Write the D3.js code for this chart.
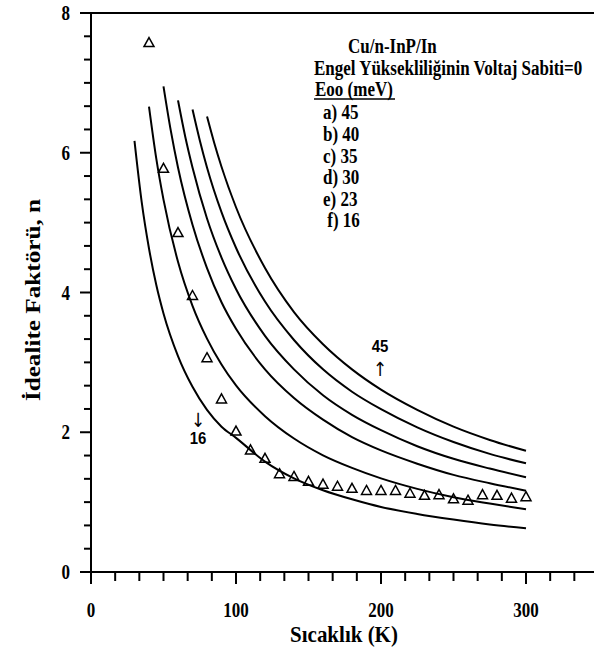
<!DOCTYPE html>
<html><head><meta charset="utf-8">
<script src="https://cdn.jsdelivr.net/npm/d3@7"></script>
<style>body{margin:0;background:#fff} svg{display:block}</style>
</head><body><svg id="c" width="594" height="650"></svg>
<script>
// ---- data ----
const eooLabels = ["a) 45","b) 40","c) 35","d) 30","e) 23"," f) 16"];
const tempA = [80,85,90,100,120,140,160,180,200,225,250,275,300];
const nA    = [6.52,6.14,5.80,5.22,4.35,3.72,3.26,2.90,2.61,2.32,2.08,1.89,1.735];
const tempB = [70,75,80,90,100,120,140,160,180,200,225,250,275,300];
const nB    = [6.62,6.18,5.79,5.15,4.64,3.87,3.32,2.90,2.58,2.33,2.07,1.86,1.69,1.555];
const tempC = [60,65,70,80,90,100,120,140,160,180,200,225,250,275,300];
const nC    = [6.75,6.23,5.79,5.06,4.50,4.05,3.38,2.90,2.53,2.25,2.03,1.80,1.62,1.48,1.355];
const tempD = [50,55,60,70,80,90,100,120,140,160,180,200,225,250,275,300];
const nD    = [6.95,6.32,5.79,4.97,4.35,3.86,3.48,2.90,2.49,2.18,1.93,1.74,1.55,1.39,1.27,1.163];
const tempE = [40,45,50,60,70,80,90,100,120,140,160,180,200,225,250,275,300];
const nE    = [6.66,5.92,5.33,4.44,3.81,3.34,2.97,2.67,2.23,1.91,1.67,1.49,1.34,1.19,1.07,0.98,0.897];
const tempF = [30,35,40,45,50,60,70,80,90,100,120,140,160,180,200,225,250,275,300];
const nF    = [6.17,5.29,4.63,4.11,3.70,3.09,2.65,2.32,2.08,1.92,1.58,1.34,1.17,1.04,0.93,0.83,0.75,0.68,0.625];
const tempExp = [40,50,60,70,80,90,100,110,120,130,140,150,160,170,180,190,200,210,220,230,240,250,260,270,280,290,300];
const nExp    = [7.57,5.77,4.85,3.95,3.06,2.47,2.01,1.74,1.62,1.40,1.36,1.29,1.25,1.22,1.19,1.16,1.16,1.16,1.12,1.09,1.10,1.04,1.02,1.10,1.09,1.05,1.07];
const xTicks = [0,100,200,300];
const yTicks = [0,2,4,6,8];
const xTitle = "Sıcaklık (K)";
const yTitle = "İdealite Faktörü, n";
const legendTitle1 = "Cu/n-InP/In";
const legendTitle2 = "Engel Yüksekliliğinin Voltaj Sabiti=0";
const legendHead = "Eoo (meV)";

// ---- drawing ----
const svg = d3.select("#c");
const x = d3.scaleLinear().domain([0,350]).range([91,598.5]);
const y = d3.scaleLinear().domain([0,8]).range([572,13]);
const SY = 1.2;
const serif = "'Liberation Serif','Times New Roman',serif";
const sans = "'Liberation Sans',Arial,sans-serif";

function stext(px, py, str, opts={}) {
  const g = svg.append("g").attr("transform", `translate(${px},${py}) scale(1,${opts.sy||SY})` + (opts.rot ? ` rotate(${opts.rot})` : ""));
  return g.append("text").attr("x",0).attr("y",0)
    .attr("font-family", opts.family || serif)
    .attr("font-weight", opts.weight || "bold")
    .attr("font-size", opts.size || 17)
    .attr("text-anchor", opts.anchor || "start")
    .attr("fill","#000")
    .style("white-space","pre")
    .text(str);
}

// minor ticks
const xMinor = d3.range(0, 351, 100/6).filter(v => xTicks.every(t => Math.abs(t-v) > 1e-6));
const yMinor = d3.range(0, 8.0001, 1/3).filter(v => yTicks.every(t => Math.abs(t-v) > 1e-6));

const ax = svg.append("g").attr("stroke","#000").attr("stroke-width",2).attr("fill","none");
ax.append("line").attr("x1", x(0)-11).attr("x2", x(350)).attr("y1", y(0)).attr("y2", y(0));
ax.append("line").attr("x1", x(0)-11).attr("x2", x(350)).attr("y1", y(8)).attr("y2", y(8));
ax.append("line").attr("x1", x(0)).attr("x2", x(0)).attr("y1", y(0)+12).attr("y2", y(8));
ax.selectAll(".xM").data(xTicks).join("line").attr("x1", d=>x(d)).attr("x2", d=>x(d)).attr("y1", y(0)).attr("y2", y(0)+12);
ax.selectAll(".xm").data(xMinor).join("line").attr("x1", d=>x(d)).attr("x2", d=>x(d)).attr("y1", y(0)).attr("y2", y(0)+9);
ax.selectAll(".yM").data(yTicks).join("line").attr("x1", x(0)-11).attr("x2", x(0)).attr("y1", d=>y(d)).attr("y2", d=>y(d));
ax.selectAll(".ym").data(yMinor).join("line").attr("x1", x(0)-7).attr("x2", x(0)).attr("y1", d=>y(d)).attr("y2", d=>y(d));

xTicks.forEach(t => stext(x(t), 617, String(t), {anchor:"middle"}));
yTicks.forEach(t => stext(70, y(t)+7, String(t), {anchor:"end"}));

stext(344, 642, xTitle, {anchor:"middle", size:21, sy:1.1});
stext(40, 300, yTitle, {anchor:"middle", size:21, rot:-90});

// curves
const line = d3.line().x(d=>x(d[0])).y(d=>y(d[1])).curve(d3.curveMonotoneX);
const series = [[tempA,nA],[tempB,nB],[tempC,nC],[tempD,nD],[tempE,nE],[tempF,nF]];
svg.append("g").selectAll("path").data(series).join("path")
  .attr("d", s => line(d3.zip(s[0], s[1])))
  .attr("fill","none").attr("stroke","#000").attr("stroke-width",2);

// experimental triangles
const tri = "M0,-5.5L5,3.5L-5,3.5Z";
svg.append("g").selectAll("path").data(d3.zip(tempExp, nExp)).join("path")
  .attr("transform", d => `translate(${x(d[0])},${y(d[1])})`)
  .attr("d", tri).attr("fill","none").attr("stroke","#000").attr("stroke-width",1.5);

// legend
stext(348, 53, legendTitle1);
stext(314, 75, legendTitle2);
stext(315, 96, legendHead);
svg.append("line").attr("x1",314).attr("x2",395).attr("y1",99).attr("y2",99).attr("stroke","#000").attr("stroke-width",1.3);
eooLabels.forEach((l,i) => stext(323, 119.3 + i*21.6, l));

// annotations
stext(380, 352, "45", {anchor:"middle", family:sans, size:15, sy:1.1});
stext(380, 376, "↑", {anchor:"middle", family:"'DejaVu Sans',sans-serif", weight:"normal", size:17, sy:1.15});
stext(198, 427, "↓", {anchor:"middle", family:"'DejaVu Sans',sans-serif", weight:"normal", size:17, sy:1.15});
stext(198, 444, "16", {anchor:"middle", family:sans, size:15, sy:1.1});
</script></body></html>
